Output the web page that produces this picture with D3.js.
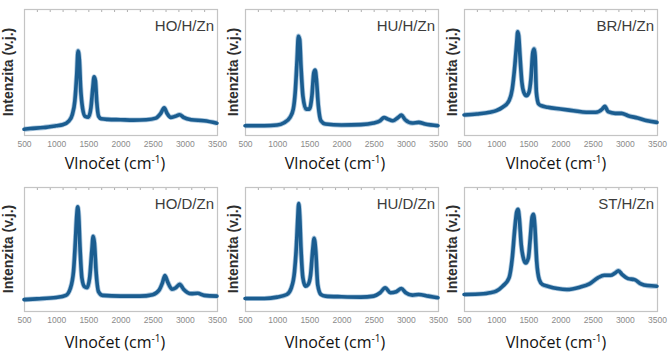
<!DOCTYPE html>
<html>
<head>
<meta charset="utf-8">
<script src="https://cdn.jsdelivr.net/npm/d3@7"></script>
<style>
  html, body { margin: 0; padding: 0; background: #fff; }
  svg { display: block; }
</style>
</head>
<body>
<svg id="chart" width="671" height="358"></svg>
<script>
// ---- Data (wavenumber in cm-1, intensity in arbitrary units 0-100) ----
const xTicks = [500, 1000, 1500, 2000, 2500, 3000, 3500];
const panelNames = ["HO/H/Zn", "HU/H/Zn", "BR/H/Zn", "HO/D/Zn", "HU/D/Zn", "ST/H/Zn"];
const yTitle = "Intenzita (v.j.)";
const xTitle = "Vlnočet (cm";
const xTitleSup = "-1";

const hoHZnWave = [500,600,800,1000,1100,1200,1250,1290,1320,1340,1360,1380,1410,1450,1500,1540,1570,1590,1610,1630,1660,1700,1800,2000,2200,2400,2550,2620,2680,2720,2780,2850,2920,2980,3100,3300,3500];
const hoHZnInt  = [4.6,5.1,5.9,7.3,8.1,11.3,16.1,26.9,48,66.7,60,37.6,21.5,14.8,14.2,21.5,37.6,46.2,43,26.9,14.8,12.9,12.4,12.1,11.8,12.1,13.4,16.7,21.5,17.5,14,14.8,16.1,14,12.1,11.3,9.4];

const huHZnWave = [500,800,1000,1100,1200,1250,1280,1310,1330,1350,1370,1400,1450,1500,1540,1570,1590,1610,1640,1680,1750,2000,2300,2500,2600,2660,2720,2800,2880,2930,2990,3100,3200,3300,3500];
const huHZnInt  = [7.4,7.4,7.9,9.5,14,20.5,33.7,60,78.4,75.8,54.7,31,20.5,20.5,31,49.5,51.6,44.2,23.2,11.3,8.7,7.9,8.2,9.5,11.3,13.9,12.6,11.3,13.9,15.8,12.1,9.5,10,8.7,7.4];

const brHZnWave = [500,700,900,1000,1100,1200,1250,1290,1320,1335,1350,1370,1400,1430,1470,1510,1540,1570,1590,1605,1625,1660,1700,1800,2000,2200,2400,2550,2650,2690,2740,2850,2950,3050,3200,3350,3500];
const brHZnInt  = [15.9,16.7,18,19.3,22,27.2,36.5,55,73.5,82,78.8,63,41.8,33.9,31.2,33.9,44.4,65.6,68.3,63,33.9,24.6,23.3,22,20.6,19.3,18,18,20.6,22.8,18.5,17.2,17.2,15.3,13.5,11.4,10];

const hoDZnWave = [500,700,1000,1150,1220,1270,1300,1320,1335,1350,1370,1400,1440,1480,1520,1555,1575,1595,1620,1660,1720,2000,2300,2500,2600,2650,2690,2730,2800,2860,2920,2980,3100,3200,3300,3500];
const hoDZnInt  = [9.2,9.8,10.9,12.6,18.2,32.2,57.4,77,84,77,52,26.6,19.6,18.8,26.6,49,60.2,54.6,32.2,15.4,12.6,12,12,13.2,16.8,22.4,28.6,23.8,17.6,18.8,21.6,17.6,14,14.3,12.6,12];

const huDZnWave = [500,800,1000,1150,1220,1270,1300,1320,1335,1350,1370,1400,1440,1480,1520,1555,1575,1600,1630,1680,1750,2000,2300,2500,2600,2680,2760,2850,2930,3000,3100,3200,3350,3500];
const huDZnInt  = [10.1,10.1,11.2,13.3,18.7,32,53.3,74.7,86.7,77.3,50.7,26.7,20,21.3,29.3,50.7,58.7,48,21.3,13.3,12,11.5,11.2,12,14.7,18.7,14.7,15.5,18.1,14.7,12.8,13.3,12,10.7];

const stHZnWave = [500,800,900,1000,1100,1200,1250,1290,1320,1340,1360,1390,1430,1460,1500,1530,1560,1580,1600,1630,1670,1720,1800,1950,2100,2300,2450,2580,2680,2780,2850,2900,2960,3050,3150,3250,3350,3500];
const stHZnInt  = [13.3,13.9,14.7,16,20,26.7,42.7,66.7,80,82,74.7,53.3,41.3,38.7,42.7,58.7,76,78,69.3,40,25.3,21.3,20,18.1,17.3,19.2,21.9,26.7,28.8,28.8,30.7,32.5,29.3,26.1,25.3,21.9,20.5,20];

const panelWaves = [hoHZnWave, huHZnWave, brHZnWave, hoDZnWave, huDZnWave, stHZnWave];
const panelInts  = [hoHZnInt, huHZnInt, brHZnInt, hoDZnInt, huDZnInt, stHZnInt];

// ---- Layout ----
const colLeft  = [24, 245, 464];
const colRight = [217, 438, 657];
const rowTop    = [9, 187];
const rowBottom = [135, 311];

const svg = d3.select("#chart");

panelNames.forEach((name, i) => {
  const col = i % 3, row = Math.floor(i / 3);
  const x0 = colLeft[col], x1 = colRight[col];
  const y0 = rowTop[row], y1 = rowBottom[row];

  const x = d3.scaleLinear().domain([500, 3500]).range([x0, x1]);
  const y = d3.scaleLinear().domain([0, 100]).range([y1, y0]);

  const g = svg.append("g");

  // frame
  g.append("rect")
    .attr("x", x0 + 0.5).attr("y", y0 + 0.5)
    .attr("width", x1 - x0).attr("height", y1 - y0)
    .attr("fill", "none").attr("stroke", "#c4c4c4").attr("stroke-width", 1.2);

  // bottom axis labels
  const axB = d3.axisBottom(x).tickValues(xTicks).tickSize(0).tickPadding(6).tickFormat(d3.format("d"));
  const axG = g.append("g").attr("transform", `translate(0,${y1})`).call(axB);
  axG.select(".domain").remove();
  axG.selectAll("text")
    .attr("fill", "#8a8a8a")
    .style("font-family", "'Liberation Sans', Arial, sans-serif")
    .style("font-size", "8.5px");

  // small top ticks
  const axT = d3.axisBottom(x).tickValues(d3.range(700, 3500, 200)).tickSize(2).tickFormat("");
  const axTG = g.append("g").attr("transform", `translate(0,${y0 + 1})`).call(axT);
  axTG.select(".domain").remove();
  axTG.selectAll("line").attr("stroke", "#b0b0b0");

  // spectrum
  const pts = panelWaves[i].map((w, k) => [w, panelInts[i][k]]);
  const line = d3.line().x(d => x(d[0])).y(d => y(d[1])).curve(d3.curveMonotoneX);
  g.append("path").datum(pts)
    .attr("d", line).attr("fill", "none")
    .attr("stroke", "#5e93bf").attr("stroke-opacity", 0.5)
    .attr("stroke-width", 5.2).attr("stroke-linejoin", "round");
  g.append("path").datum(pts)
    .attr("d", line).attr("fill", "none")
    .attr("stroke", "#1b5d90").attr("stroke-width", 3.6)
    .attr("stroke-linejoin", "round").attr("stroke-linecap", "round");

  // panel label
  g.append("text")
    .attr("x", x1 - 3).attr("y", row === 0 ? 31 : 209)
    .attr("text-anchor", "end")
    .attr("fill", "#3c3c3c")
    .style("font-family", "'Liberation Sans', Arial, sans-serif")
    .style("font-size", "15px")
    .text(name);

  // y title
  const yc = (y0 + y1) / 2;
  const ylx = [8, 233, 452][col];
  g.append("text")
    .attr("transform", `translate(${ylx + 5},${yc}) rotate(-90)`)
    .attr("text-anchor", "middle")
    .attr("fill", "#2e2e2e")
    .style("font-family", "'Liberation Sans', Arial, sans-serif")
    .style("font-weight", "bold")
    .style("font-size", "14px")
    .text(yTitle);

  // x title
  const xc = [115, 335, 556][col];
  const t = g.append("text")
    .attr("x", xc).attr("y", row === 0 ? 169 : 348)
    .attr("text-anchor", "middle")
    .attr("fill", "#111")
    .style("font-family", "'Open Sans', 'Noto Sans', sans-serif")
    .style("font-size", "16px");
  t.append("tspan").text(xTitle);
  t.append("tspan").attr("dy", -6).style("font-size", "10px").text(xTitleSup);
  t.append("tspan").attr("dy", 6).text(")");
});
</script>
</body>
</html>
